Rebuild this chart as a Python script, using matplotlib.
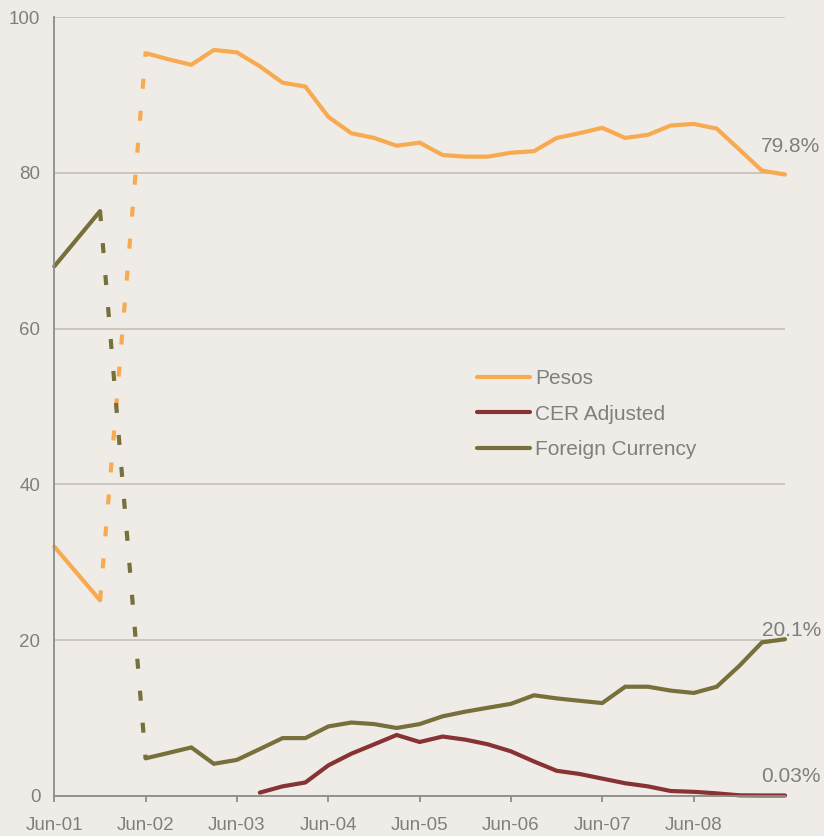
import matplotlib
matplotlib.use("Agg")
import matplotlib.pyplot as plt
import matplotlib.dates as mdates
import numpy as np
import pandas as pd

# early half-year points (Jun-01, Dec-01)
early_dates = pd.to_datetime(["2001-06-01", "2001-12-01"])
pesos_early = [32.0, 25.1]
fx_early = [68.0, 75.1]

# transition Dec-01 -> Jun-02 (dashed)
gap_dates = pd.to_datetime(["2001-12-01", "2002-06-01"])
pesos_gap = [25.1, 95.4]
fx_gap = [75.1, 4.8]

# quarterly from Jun-02 to Jun-09
dates = pd.date_range("2002-06-01", "2009-06-01", freq="3MS")
pesos = [95.4, 94.6, 93.9, 95.8, 95.5, 93.7, 91.6, 91.1, 87.2, 85.1, 84.5, 83.5,
         83.9, 82.3, 82.1, 82.1, 82.6, 82.8, 84.5, 85.1, 85.8, 84.5, 84.9, 86.1,
         86.3, 85.7, 83.0, 80.3, 79.8]
cer = [np.nan] * 5 + [0.4, 1.2, 1.7, 3.9, 5.4, 6.6, 7.8, 6.9, 7.6, 7.2, 6.6, 5.7,
                      4.4, 3.2, 2.8, 2.2, 1.6, 1.2, 0.6, 0.5, 0.3, 0.05, 0.03, 0.03]
fx = [4.8, 5.5, 6.2, 4.1, 4.6, 6.0, 7.4, 7.4, 8.9, 9.4, 9.2, 8.7, 9.2, 10.2, 10.8,
      11.3, 11.8, 12.9, 12.5, 12.2, 11.9, 14.0, 14.0, 13.5, 13.2, 14.0, 16.7, 19.7, 20.1]

end_labels = ["79.8%", "0.03%", "20.1%"]

ORANGE = "#F7AA50"
MAROON = "#873333"
OLIVE = "#77703B"
TXT = "#7F7F7F"
BG = "#EFECE8"

plt.rcParams["font.family"] = ["Liberation Sans", "DejaVu Sans"]

fig = plt.figure(figsize=(8.24, 8.36), dpi=100, facecolor=BG)
ax = fig.add_axes([54.3 / 824, 1 - 795.7 / 836, (785 - 54.3) / 824, (795.7 - 17.3) / 836])
ax.set_facecolor("none")

lw = 3.0
kw = dict(linewidth=lw, solid_capstyle="round", solid_joinstyle="miter", clip_on=False)
dkw = dict(linewidth=lw, dashes=(2.4, 5.3), dash_capstyle="butt", clip_on=False)

ax.plot(early_dates, pesos_early, color=ORANGE, **kw)
ax.plot(early_dates, fx_early, color=OLIVE, **kw)
ax.plot(gap_dates, pesos_gap, color=ORANGE, **dkw)
ax.plot(gap_dates, fx_gap, color=OLIVE, **dkw)

ax.plot(dates, pesos, color=ORANGE, label="Pesos", **kw)
ax.plot(dates, cer, color=MAROON, label="CER Adjusted", **kw)
ax.plot(dates, fx, color=OLIVE, label="Foreign Currency", **kw)

# end labels
last = dates[-1]
ax.annotate(end_labels[0], xy=(last, pesos[-1]), xytext=(25, 20), textcoords="offset points",
            ha="right", va="center", fontsize=15, color=TXT)
ax.annotate(end_labels[2], xy=(last, fx[-1]), xytext=(26, 6), textcoords="offset points",
            ha="right", va="center", fontsize=15, color=TXT)
ax.annotate(end_labels[1], xy=(last, cer[-1]), xytext=(26, 14), textcoords="offset points",
            ha="right", va="center", fontsize=15, color=TXT)

ax.set_ylim(0, 100)
ax.set_yticks(np.arange(0, 101, 20))
ax.set_xlim(pd.Timestamp("2001-06-01"), pd.Timestamp("2009-06-01"))
ax.xaxis.set_major_formatter(mdates.DateFormatter("%b-%y"))
ax.set_xticks(pd.date_range("2001-06-01", "2008-06-01", freq="12MS"))

ax.grid(axis="y", color="#C9C2BA", linewidth=1.3)
ax.set_axisbelow(True)
for s in ["top", "right"]:
    ax.spines[s].set_visible(False)
for s in ["left", "bottom"]:
    ax.spines[s].set_color("#8C8C8C")
    ax.spines[s].set_linewidth(1.3)
ax.tick_params(axis="y", length=0, pad=10, labelsize=13.5, labelcolor=TXT)
ax.tick_params(axis="x", length=4.5, width=1.3, color="#8C8C8C", pad=11, labelsize=13.5, labelcolor=TXT)

leg = ax.legend(loc="upper left", bbox_to_anchor=(476.7 / 824, 1 - 369 / 836),
                bbox_transform=fig.transFigure, frameon=False, fontsize=15,
                borderpad=0, borderaxespad=0, handlelength=2.55, handletextpad=0.25,
                labelspacing=0.8)
for t in leg.get_texts():
    t.set_color(TXT)

fig.savefig("out.png", dpi=100, facecolor=BG)
